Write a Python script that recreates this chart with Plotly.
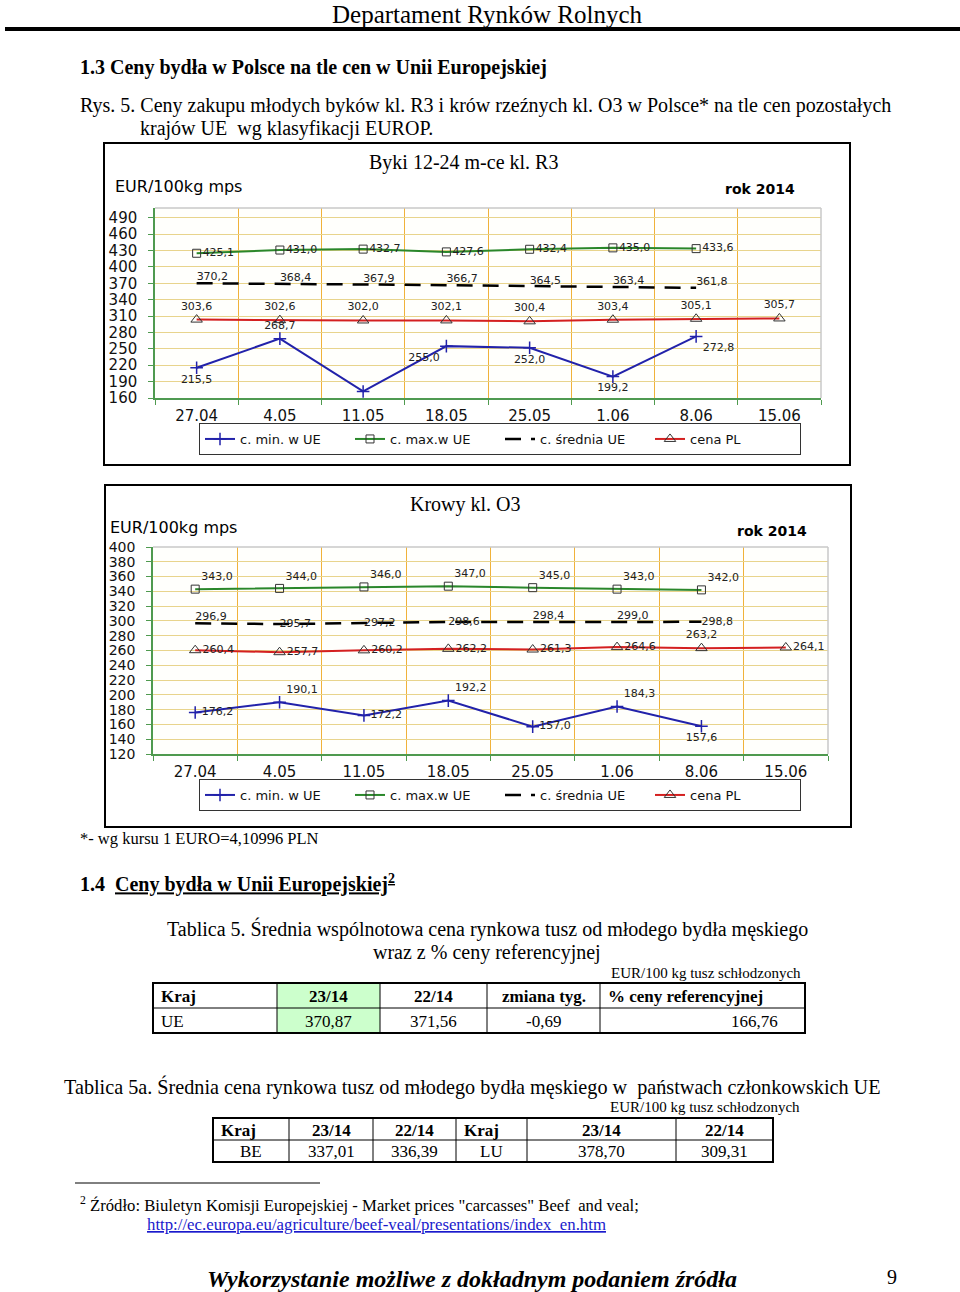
import plotly.graph_objects as go

W, H = 960, 1292
SERIF = "Liberation Serif"
SANS = "DejaVu Sans"

# ---------------- data ----------------
dates = ["27.04", "4.05", "11.05", "18.05", "25.05", "1.06", "8.06", "15.06"]

byki_min = [215.5, 268.7, 172.0, 255.0, 252.0, 199.2, 272.8]
byki_max = [425.1, 431.0, 432.7, 427.6, 432.4, 435.0, 433.6]
byki_mean = [370.2, 368.4, 367.9, 366.7, 364.5, 363.4, 361.8]
byki_pl = [303.6, 302.6, 302.0, 302.1, 300.4, 303.4, 305.1, 305.7]

krowy_min = [176.2, 190.1, 172.2, 192.2, 157.0, 184.3, 157.6]
krowy_max = [343.0, 344.0, 346.0, 347.0, 345.0, 343.0, 342.0]
krowy_mean = [296.9, 295.7, 297.2, 298.6, 298.4, 299.0, 298.8]
krowy_pl = [260.4, 257.7, 260.2, 262.2, 261.3, 264.6, 263.2, 264.1]

series_names = ["c. min. w UE", "c. max.w UE", "c. średnia UE", "cena PL"]

byki_ticks = list(range(160, 491, 30))
krowy_ticks = list(range(120, 401, 20))

t5_header = ["Kraj", "23/14", "22/14", "zmiana tyg.", "% ceny referencyjnej"]
t5_row = ["UE", "370,87", "371,56", "-0,69", "166,76"]
t5a_header = ["Kraj", "23/14", "22/14", "Kraj", "23/14", "22/14"]
t5a_row = ["BE", "337,01", "336,39", "LU", "378,70", "309,31"]


def fmt(v):
    return f"{v:.1f}".replace(".", ",")


def px(x):
    return x / W


def py(y):
    return 1 - y / H


fig = go.Figure()

C_MIN = "#2222aa"
C_MAX = "#2a872a"
C_MEAN = "#000000"
C_PL = "#d42020"
LBL = dict(family=SANS, size=11, color="#222222")


def add_chart(xa, ya, legend, vmin, vmax, vmean, vpl, pos_min, pos_max, pos_mean, pos_pl):
    fig.add_trace(go.Scatter(
        x=dates[:len(vmin)], y=vmin, name=series_names[0], xaxis=xa, yaxis=ya, legend=legend,
        mode="lines+markers+text", text=[fmt(v) for v in vmin], textposition=pos_min,
        textfont=LBL, line=dict(color=C_MIN, width=2),
        marker=dict(symbol="cross-thin", size=9, line=dict(color=C_MIN, width=1.5))))
    fig.add_trace(go.Scatter(
        x=dates[:len(vmax)], y=vmax, name=series_names[1], xaxis=xa, yaxis=ya, legend=legend,
        mode="lines+markers+text", text=[fmt(v) for v in vmax], textposition=pos_max,
        textfont=LBL, line=dict(color=C_MAX, width=2),
        marker=dict(symbol="square-open", size=8, color="#333333", line=dict(width=1))))
    fig.add_trace(go.Scatter(
        x=dates[:len(vmean)], y=vmean, name=series_names[2], xaxis=xa, yaxis=ya, legend=legend,
        mode="lines+text", text=[fmt(v) for v in vmean], textposition=pos_mean,
        textfont=LBL, line=dict(color=C_MEAN, width=2.5, dash="16px,10px")))
    fig.add_trace(go.Scatter(
        x=dates[:len(vpl)], y=vpl, name=series_names[3], xaxis=xa, yaxis=ya, legend=legend,
        mode="lines+markers+text", text=[fmt(v) for v in vpl], textposition=pos_pl,
        textfont=LBL, line=dict(color=C_PL, width=2),
        marker=dict(symbol="triangle-up-open", size=10, color="#333333", line=dict(width=1))))


add_chart("x", "y", "legend", byki_min, byki_max, byki_mean, byki_pl,
          ["bottom center", "top center", "bottom center", "bottom left", "bottom center",
           "bottom center", "bottom right"],
          "middle right", "top right", "top center")
add_chart("x2", "y2", "legend2", krowy_min, krowy_max, krowy_mean, krowy_pl,
          ["middle right", "top right", "middle right", "top right", "middle right",
           "top right", "bottom center"],
          "top right",
          ["top right", "middle right", "middle right", "middle right", "top right",
           "top right", "middle right"],
          ["middle right", "middle right", "middle right", "middle right", "middle right",
           "middle right", "top center", "middle right"])

AX_GREEN = "#4f9a4f"
GRID_H = "#e8d48c"
GRID_V = "#f0b23a"


def xaxis_cfg(domain, anchor):
    return dict(domain=domain, anchor=anchor, type="category", categoryorder="array",
                categoryarray=dates, range=[-0.5, 7.5], tickson="boundaries",
                ticks="outside", ticklen=5, tickcolor=AX_GREEN, showline=True,
                linecolor=AX_GREEN, linewidth=1.5, showgrid=True, gridcolor=GRID_V,
                gridwidth=1, zeroline=False, automargin=False,
                tickfont=dict(family=SANS, size=15, color="#111111"), ticklabelstandoff=3,
                fixedrange=True)


def yaxis_cfg(domain, anchor, rng, ticks, fsize):
    return dict(domain=domain, anchor=anchor, range=rng, tickvals=ticks,
                ticks="outside", ticklen=5, tickcolor=AX_GREEN, showline=True,
                linecolor=AX_GREEN, linewidth=1.5, showgrid=True, gridcolor=GRID_H,
                gridwidth=1, zeroline=False, automargin=False,
                tickfont=dict(family=SANS, size=fsize, color="#111111"),
                ticklabelstandoff=8, fixedrange=True)


def legend_cfg(ycenter):
    return dict(orientation="h", x=px(500), y=py(ycenter), xanchor="center",
                yanchor="middle", bordercolor="#333333", borderwidth=1, bgcolor="white",
                font=dict(family=SANS, size=13, color="#111111"),
                entrywidth=105, itemwidth=30, tracegroupgap=0)


fig.update_layout(
    width=W, height=H,
    margin=dict(l=0, r=0, t=0, b=0, pad=0, autoexpand=False),
    paper_bgcolor="white", plot_bgcolor="#fffffc",
    xaxis=xaxis_cfg([px(155), px(821)], "y"),
    yaxis=yaxis_cfg([py(398), py(208)], "x", [160, 508], byki_ticks, 15),
    xaxis2=xaxis_cfg([px(153), px(828)], "y2"),
    yaxis2=yaxis_cfg([py(754), py(547)], "x2", [120, 400], krowy_ticks, 14),
    legend=legend_cfg(439),
    legend2=legend_cfg(795),
    showlegend=True,
)

shapes = []
# header rule
shapes.append(dict(type="line", xref="paper", yref="paper", x0=px(5), x1=px(960),
                   y0=py(29), y1=py(29), line=dict(color="black", width=4)))
# chart frames
for (x0, y0, x1, y1) in [(104, 143, 850, 465), (105, 485, 851, 827)]:
    shapes.append(dict(type="rect", xref="paper", yref="paper", x0=px(x0), x1=px(x1),
                       y0=py(y0), y1=py(y1), line=dict(color="black", width=2)))
# plot-area top/right borders (gray)
for (x0, y0, x1, y1) in [(155, 208, 821, 398), (153, 547, 828, 754)]:
    shapes.append(dict(type="line", xref="paper", yref="paper", x0=px(x0), x1=px(x1),
                       y0=py(y0), y1=py(y0), line=dict(color="#c8c8c8", width=1.5)))
    shapes.append(dict(type="line", xref="paper", yref="paper", x0=px(x1), x1=px(x1),
                       y0=py(y0), y1=py(y1), line=dict(color="#c8c8c8", width=1.5)))

annotations = []


def text(x, y, s, size, family=SERIF, anchor="left", color="black", vanchor="middle",
         pad=1):
    annotations.append(dict(x=px(x), y=py(y), xref="paper", yref="paper", text=s,
                            showarrow=False, xanchor=anchor, yanchor=vanchor, borderpad=pad,
                            font=dict(family=family, size=size, color=color)))


text(487, 0, "Departament Rynków Rolnych", 25, anchor="center", vanchor="top", pad=0)
text(78, 67, "<b>1.3 Ceny bydła w Polsce na tle cen w Unii Europejskiej</b>", 20)
text(78, 105, "Rys. 5. Ceny zakupu młodych byków kl. R3 i krów rzeźnych kl. O3 w Polsce* "
     "na tle cen pozostałych", 20)
text(138, 128, "krajów UE\u00a0 wg klasyfikacji EUROP.", 20)

# chart 1 texts
text(463, 162, "Byki 12-24 m-ce kl. R3", 20, anchor="center")
text(113, 186, "EUR/100kg mps", 16, family=SANS)
text(760, 189, "<b>rok 2014</b>", 14, family=SANS, anchor="center")
# chart 2 texts
text(465, 504, "Krowy kl. O3", 20, anchor="center")
text(108, 527, "EUR/100kg mps", 16, family=SANS)
text(772, 531, "<b>rok 2014</b>", 14, family=SANS, anchor="center")

text(78, 838, "*- wg kursu 1 EURO=4,10996 PLN", 16.5)
text(78, 883, "<b>1.4\u00a0 <u>Ceny bydła w Unii Europejskiej<sup>2</sup></u></b>", 20)
text(487, 929, "Tablica 5. Średnia wspólnotowa cena rynkowa tusz od młodego bydła męskiego",
     20, anchor="center")
text(487, 952, "wraz z % ceny referencyjnej", 20, anchor="center")
text(803, 973, "EUR/100 kg tusz schłodzonych", 15, anchor="right")

# Table 5
t5_cols = [153, 277, 380, 487, 600, 805]
shapes.append(dict(type="rect", xref="paper", yref="paper", x0=px(277), x1=px(380),
                   y0=py(983), y1=py(1033), fillcolor="#ccffcc", line=dict(width=0),
                   layer="below"))
for c in t5_cols[1:-1]:
    shapes.append(dict(type="line", xref="paper", yref="paper", x0=px(c), x1=px(c),
                       y0=py(983), y1=py(1033), line=dict(color="black", width=1)))
shapes.append(dict(type="line", xref="paper", yref="paper", x0=px(153), x1=px(805),
                   y0=py(1008), y1=py(1008), line=dict(color="black", width=1)))
shapes.append(dict(type="rect", xref="paper", yref="paper", x0=px(153), x1=px(805),
                   y0=py(983), y1=py(1033), line=dict(color="black", width=2)))
t5_h_align = ["left", "center", "center", "center", "left"]
t5_r_align = ["left", "center", "center", "center", "right"]
for i in range(5):
    a, b = t5_cols[i], t5_cols[i + 1]
    for row, aligns, yc, bold in [(t5_header, t5_h_align, 996, True),
                                  (t5_row, t5_r_align, 1021, False)]:
        al = aligns[i]
        xx = a + 6 if al == "left" else (b - 25 if al == "right" else (a + b) / 2)
        s = "<b>" + row[i] + "</b>" if bold else row[i]
        text(xx, yc, s, 17, anchor=al)

text(62, 1087, "Tablica 5a. Średnia cena rynkowa tusz od młodego bydła męskiego w\u00a0 "
     "państwach członkowskich UE", 20.2)
text(802, 1107, "EUR/100 kg tusz schłodzonych", 15, anchor="right")

# Table 5a
t5a_cols = [213, 289, 373, 456, 527, 676, 773]
for c in t5a_cols[1:-1]:
    shapes.append(dict(type="line", xref="paper", yref="paper", x0=px(c), x1=px(c),
                       y0=py(1118), y1=py(1162), line=dict(color="black", width=1)))
shapes.append(dict(type="line", xref="paper", yref="paper", x0=px(213), x1=px(773),
                   y0=py(1140), y1=py(1140), line=dict(color="black", width=1)))
shapes.append(dict(type="rect", xref="paper", yref="paper", x0=px(213), x1=px(773),
                   y0=py(1118), y1=py(1162), line=dict(color="black", width=2)))
t5a_h_align = ["left", "center", "center", "left", "center", "center"]
for i in range(6):
    a, b = t5a_cols[i], t5a_cols[i + 1]
    al = t5a_h_align[i]
    xx = a + 6 if al == "left" else (a + b) / 2
    text(xx, 1130, "<b>" + t5a_header[i] + "</b>", 17, anchor=al)
    text((a + b) / 2, 1151, t5a_row[i], 17, anchor="center")

# footnote
shapes.append(dict(type="line", xref="paper", yref="paper", x0=px(75), x1=px(320),
                   y0=py(1183), y1=py(1183), line=dict(color="black", width=1)))
text(78, 1204, "<sup>2</sup> Źródło: Biuletyn Komisji Europejskiej - Market prices "
     "\"carcasses\" Beef\u00a0 and veal;", 16.7)
text(145, 1224, "<u>http://ec.europa.eu/agriculture/beef-veal/presentations/index_en.htm</u>",
     16.8, color="#1a1acc")
text(472, 1279, "<b><i>Wykorzystanie możliwe z dokładnym podaniem źródła</i></b>", 24,
     anchor="center")
text(892, 1277, "9", 20, anchor="center")

fig.update_layout(shapes=shapes, annotations=annotations)

fig.write_html(
    "out.html",
    config={"displayModeBar": False},
    post_script="document.body.style.margin='0';document.body.style.overflow='hidden';",
)
